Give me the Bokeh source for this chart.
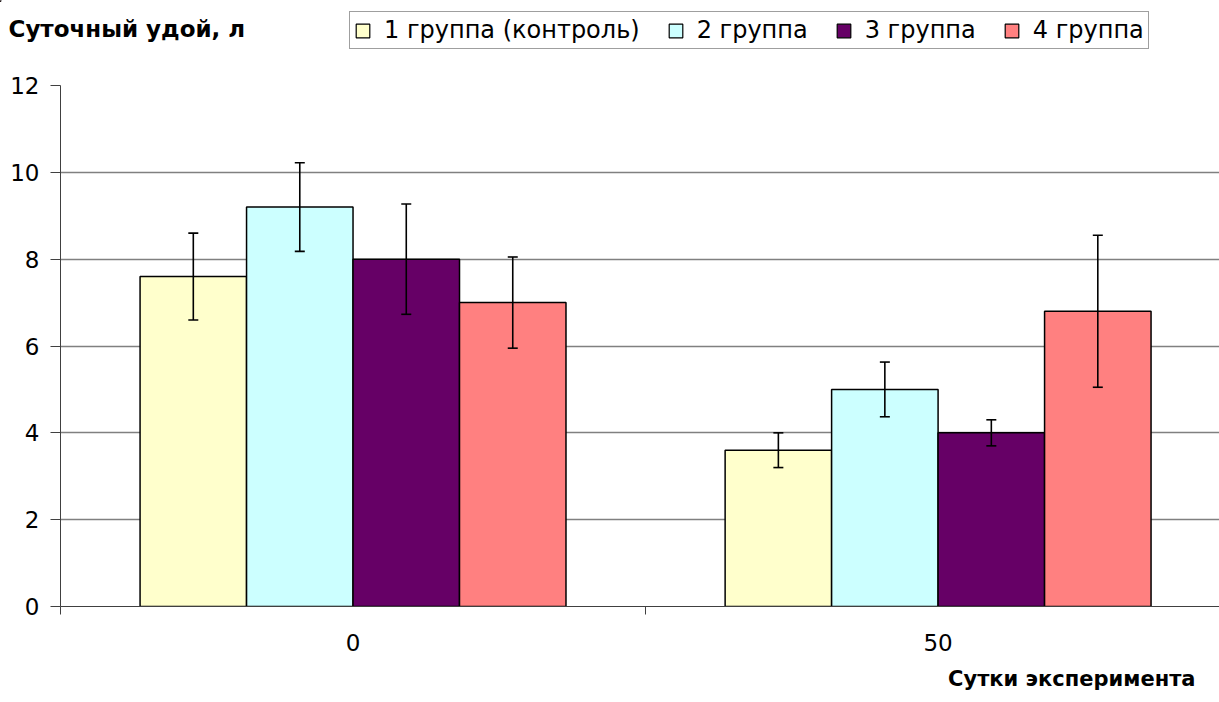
from bokeh.plotting import figure
from bokeh.models import (Range1d, FixedTicker, ColumnDataSource, Whisker, TeeHead,
                          Legend, LegendItem, Label)
from bokeh.embed import file_html
from bokeh.resources import INLINE

days = ["0", "50"]
groups = ["1 группа (контроль)", "2 группа", "3 группа", "4 группа"]
colors = ["#FFFFCC", "#CCFFFF", "#660066", "#FF8080"]
g1 = [7.6, 3.6]
g1_err = [1.0, 0.4]
g2 = [9.2, 5.0]
g2_err = [1.02, 0.63]
g3 = [8.0, 4.0]
g3_err = [1.27, 0.3]
g4 = [7.0, 6.8]
g4_err = [1.05, 1.75]
y_ticks = [0, 2, 4, 6, 8, 10, 12]

series = [g1, g2, g3, g4]
errors = [g1_err, g2_err, g3_err, g4_err]

FONT = "DejaVu Sans"
BAR_W = 0.182
W = 1219
TOP_H = 70
MAIN_H = 592
BOT_H = 32

# ---------- header strip: y-title + legend ----------
top = figure(width=W, height=TOP_H, x_range=Range1d(0, W), y_range=Range1d(TOP_H, 0),
             x_axis_type=None, y_axis_type=None, output_backend="svg",
             toolbar_location=None, min_border=0)
top.outline_line_color = None
top.xgrid.visible = False
top.ygrid.visible = False

title = Label(x=8, y=28, text="Суточный удой, л", text_font=FONT,
              text_font_size="23px", text_font_style="bold",
              text_baseline="middle", text_align="left", text_color="black")
top.add_layout(title)

items = []
for col, name in zip(colors, groups):
    # swatch-only renderer, kept outside the visible range
    r = top.vbar(x=[-50], top=[1], width=1, fill_color=col, line_color="black", line_width=1.2)
    items.append(LegendItem(label=name, renderers=[r]))

legend = Legend(items=items, orientation="horizontal", location=(349, 21),
                border_line_color="#404040", border_line_width=1,
                background_fill_color="white", background_fill_alpha=1,
                label_text_font=FONT, label_text_font_size="24px",
                label_text_color="black",
                glyph_width=17, glyph_height=17, label_standoff=13,
                spacing=27, padding=4, margin=0, label_height=20)
top.add_layout(legend)

# ---------- main chart ----------
p = figure(width=W, height=MAIN_H, x_range=Range1d(0, 1.981), y_range=Range1d(0, 12),
           output_backend="svg", toolbar_location=None,
           min_border_left=60, min_border_right=0, min_border_top=15, min_border_bottom=56)
p.outline_line_color = None
p.background_fill_color = "white"
p.border_fill_color = "white"

p.yaxis.ticker = FixedTicker(ticks=y_ticks)
p.yaxis.major_label_text_font = FONT
p.yaxis.major_label_text_font_size = "23px"
p.yaxis.major_label_text_color = "black"
p.yaxis.major_tick_out = 10
p.yaxis.major_tick_in = 0
p.yaxis.minor_tick_line_color = None
p.yaxis.major_label_standoff = 11
p.yaxis.axis_line_color = "#404040"
p.yaxis.major_tick_line_color = "#404040"

centers = [i + 0.5 for i in range(len(days))]
bounds = [float(i) for i in range(len(days) + 1)]
p.xaxis.ticker = FixedTicker(ticks=centers, minor_ticks=bounds)
p.xaxis.major_label_overrides = {c: d for c, d in zip(centers, days)}
p.xaxis.major_label_text_font = FONT
p.xaxis.major_label_text_font_size = "23px"
p.xaxis.major_label_text_color = "black"
p.xaxis.major_tick_line_color = None
p.xaxis.major_tick_out = 0
p.xaxis.major_tick_in = 0
p.xaxis.minor_tick_out = 8
p.xaxis.minor_tick_in = 0
p.xaxis.minor_tick_line_color = "#404040"
p.xaxis.major_label_standoff = 19
p.xaxis.axis_line_color = "#404040"

p.xgrid.visible = False
p.ygrid.grid_line_color = "#808080"
p.ygrid.grid_line_width = 1.3

n = len(series)
for k, (vals, errs, col) in enumerate(zip(series, errors, colors)):
    off = (k - (n - 1) / 2) * BAR_W
    xs = [c + off for c in centers]
    src = ColumnDataSource(dict(x=xs, top=vals,
                                upper=[v + e for v, e in zip(vals, errs)],
                                lower=[v - e for v, e in zip(vals, errs)]))
    p.vbar(x="x", top="top", width=BAR_W, bottom=0, source=src,
           fill_color=col, line_color="black", line_width=1.5)
    w = Whisker(base="x", upper="upper", lower="lower", source=src, level="overlay",
                line_color="black", line_width=1.6,
                upper_head=TeeHead(size=10, line_color="black", line_width=1.6),
                lower_head=TeeHead(size=10, line_color="black", line_width=1.6))
    p.add_layout(w)

# ---------- footer strip: x-title ----------
bot = figure(width=W, height=BOT_H, x_range=Range1d(0, W), y_range=Range1d(BOT_H, 0),
             x_axis_type=None, y_axis_type=None, output_backend="svg",
             toolbar_location=None, min_border=0)
bot.outline_line_color = None
bot.xgrid.visible = False
bot.ygrid.visible = False
xlabel = Label(x=1195, y=16, text="Сутки эксперимента", text_font=FONT,
               text_font_size="21px", text_font_style="bold",
               text_baseline="middle", text_align="right", text_color="black")
bot.add_layout(xlabel)

open("out.html", "w").write(file_html([top, p, bot], INLINE))
